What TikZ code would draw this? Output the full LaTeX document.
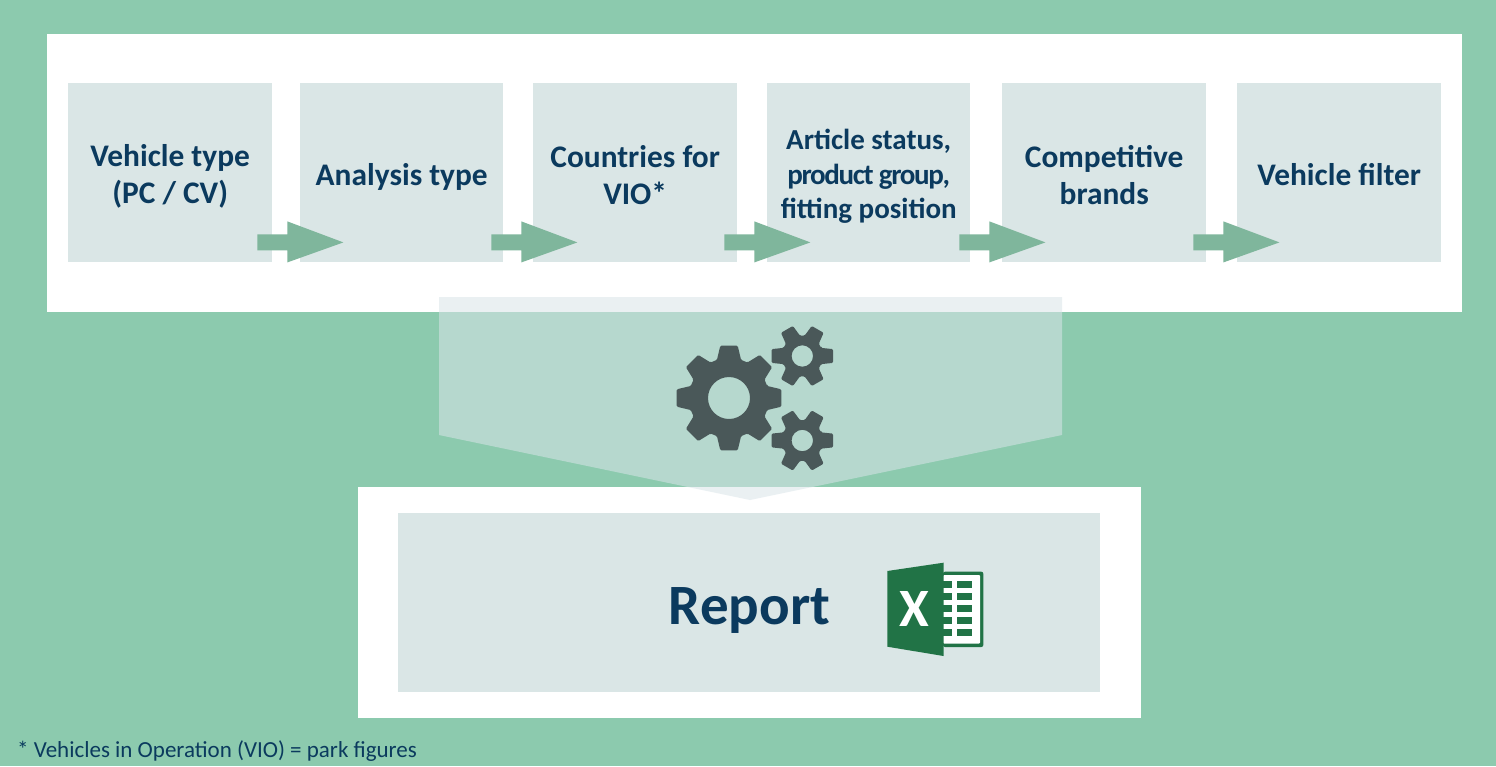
\documentclass[tikz,border=0pt]{standalone}
\usepackage{fontspec}
\setmainfont{Carlito}
\usetikzlibrary{calc}
\definecolor{bggreen}{HTML}{8CCAAE}
\definecolor{boxgrey}{HTML}{DAE6E6}
\definecolor{funnelgrey}{HTML}{D9E5E9}
\definecolor{navy}{HTML}{0B3A5E}
\definecolor{arrowgreen}{HTML}{7FB69C}
\definecolor{geargrey}{HTML}{4A5859}
\definecolor{xlgreen}{HTML}{217346}
\tikzset{
  x=1pt,y=-1pt,
  panel/.style={fill=white,draw=none,inner sep=0pt,anchor=north west},
  stepbox/.style={fill=boxgrey,draw=none,inner sep=0pt,anchor=north west,minimum height=179pt},
  steplabel/.style={inner sep=0pt,align=center,text=navy,font=\bfseries\fontsize{31.4}{37}\selectfont},
  steplabelsmall/.style={steplabel,font=\bfseries\fontsize{29}{34.5}\selectfont},
  blockarrow/.pic={\fill[arrowgreen] (0,-8) -- (30,-8) -- (30,-21) -- (86,0) -- (30,20) -- (30,8) -- (0,8) -- cycle;},
}
\newcommand{\gearpath}[6]{% x,y,outer,root,hole,teeth
  \pgfmathsetmacro{\st}{360/#6}
  \pgfmathsetmacro{\tw}{\st*0.21}
  \pgfmathsetmacro{\rw}{\st*0.39}
  \fill[geargrey,even odd rule,rounded corners=1.2pt]
   (#1,#2) ++(-\rw:#4) 
   \foreach \i in {1,...,#6}{
     -- ($(#1,#2)+({(\i-1)*\st-\rw}:{#4})$)
     -- ($(#1,#2)+({(\i-1)*\st-\tw}:{#3})$)
     -- ($(#1,#2)+({(\i-1)*\st+\tw}:{#3})$)
     -- ($(#1,#2)+({(\i-1)*\st+\rw}:{#4})$)
   } -- cycle
   (#1,#2) circle[radius=#5];
}
\begin{document}
\begin{tikzpicture}
\useasboundingbox (0,0) rectangle (1496,766);
\fill[bggreen] (0,0) rectangle (1496,766);
\node[panel,minimum width=1415pt,minimum height=278pt] (toppanel) at (47,34) {};
\node[stepbox,minimum width=204pt] (b1) at (68,83) {};
\node[stepbox,minimum width=203pt] (b2) at (300,83) {};
\node[stepbox,minimum width=204pt] (b3) at (533,83) {};
\node[stepbox,minimum width=203pt] (b4) at (767,83) {};
\node[stepbox,minimum width=204pt] (b5) at (1002,83) {};
\node[stepbox,minimum width=204pt] (b6) at (1237,83) {};
\node[steplabel] (l1) at ([yshift=-4pt]b1.center) {Vehicle type\\(PC / CV)};
\node[steplabel] (l2) at ([yshift=-4pt]b2.center) {Analysis type};
\node[steplabel] (l3) at ([yshift=-2pt]b3.center) {Countries for\\VIO*};
\node[steplabelsmall] (l4) at ([yshift=-4pt]b4.center) {Article status,\\{\addfontfeature{LetterSpace=-4.7}product group,}\\fitting position};
\node[steplabel] (l5) at ([yshift=-2pt]b5.center) {Competitive\\brands};
\node[steplabel] (l6) at ([yshift=-2pt]b6.center) {Vehicle filter};
\pic at ([shift={(-15,-20)}]b1.south east) {blockarrow};
\pic at ([shift={(-12,-20)}]b2.south east) {blockarrow};
\pic at ([shift={(-13,-20)}]b3.south east) {blockarrow};
\pic at ([shift={(-11,-20)}]b4.south east) {blockarrow};
\pic at ([shift={(-13,-20)}]b5.south east) {blockarrow};
\node[panel,minimum width=783pt,minimum height=231pt] (reportpanel) at (358,487) {};
\node[panel,fill=boxgrey,minimum width=702pt,minimum height=179pt] (reportbox) at (398,513) {};
\fill[funnelgrey,opacity=0.55] (439,297) -- (1062,297) -- (1062,435) -- (750,500) -- (439,435) -- cycle;
\gearpath{729}{398}{53}{40}{21}{8}
\gearpath{802.3}{356}{31.5}{20.5}{10.7}{6}
\gearpath{802.3}{440.5}{31.5}{20.5}{10.7}{6}
\node[text=navy,font=\bfseries\fontsize{57}{60}\selectfont,inner sep=0pt] (report) at (749.5,610) {Report};
% Excel icon
\fill[xlgreen,rounded corners=2pt] (943,571.7) rectangle (983.3,647);
\fill[white,rounded corners=1pt] (943,575) rectangle (980,643.7);
\foreach \r in {0,1,2,3,4}{
  \fill[xlgreen] (943,{581+\r*12}) rectangle (951.7,{588.3+\r*12});
  \fill[xlgreen] (956.7,{581+\r*12}) rectangle (972.3,{588.3+\r*12});
}
\fill[xlgreen] (887.3,571) -- (943.5,562.7) -- (943.5,656) -- (887.3,646.7) -- cycle;
\node[text=white,font=\bfseries\fontsize{54}{54}\selectfont,inner sep=0pt] (xl) at (914,608.5) {X};
\node[anchor=west,text=navy,font=\fontsize{23}{26}\selectfont,inner sep=0pt] (foot) at (17,751) {* Vehicles in Operation (VIO) = park figures};
\end{tikzpicture}
\end{document}
